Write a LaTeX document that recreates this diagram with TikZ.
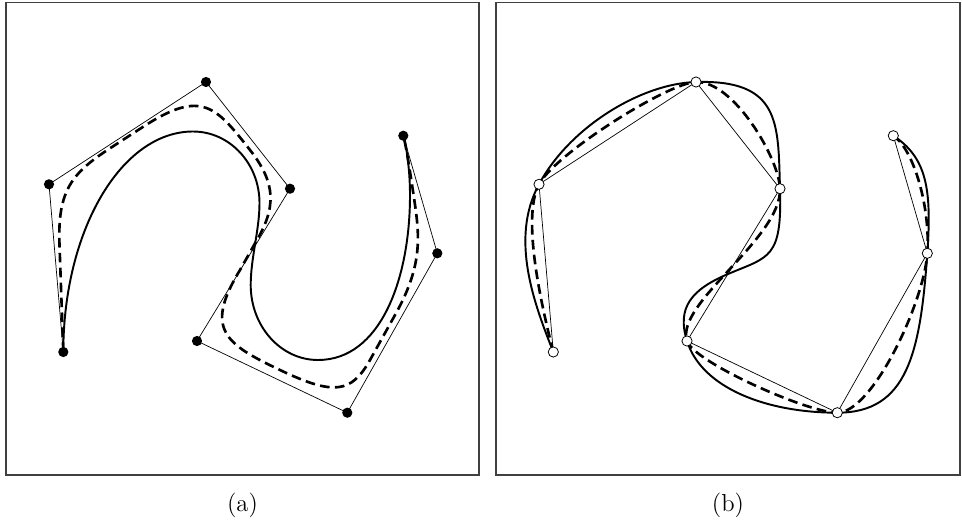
\documentclass[tikz,border=0pt]{standalone}
\usepackage{tikz}

\begin{document}
\begin{tikzpicture}[
    x=0.02cm, y=-0.02cm,
    frame/.style={draw=black!75, line width=0.7pt},
    hull/.style={line width=0.4pt},
    fullcurve/.style={line width=1.1pt},
    dashcurve/.style={line width=1.5pt, dash pattern=on 5.5pt off 3pt},
    adot/.style={circle, fill=black, inner sep=0pt, minimum size=5.8pt},
    bdot/.style={circle, draw, fill=white, line width=0.45pt, inner sep=0pt, minimum size=5.8pt},
    caption/.style={font=\fontsize{14}{16}\selectfont},
]
\useasboundingbox (0,0) rectangle (962,527);
% Frames and captions
\draw[frame] (6,2.5) rectangle (479,475);
\draw[frame] (496,2.5) rectangle (960,475);
\node[caption] (capa) at (242.5,505) {(a)};
\node[caption] (capb) at (728,505) {(b)};
% (a) control points
\coordinate (P0) at (63.3,352);
\coordinate (P1) at (49,184.3);
\coordinate (P2) at (206,82);
\coordinate (P3) at (290,188.7);
\coordinate (P4) at (197,341);
\coordinate (P5) at (347.3,412.7);
\coordinate (P6) at (437.3,253.3);
\coordinate (P7) at (403.3,135.7);
% (b) data points
\coordinate (Q0) at (553.3,352);
\coordinate (Q1) at (539,184.3);
\coordinate (Q2) at (696,82);
\coordinate (Q3) at (780,188.7);
\coordinate (Q4) at (687,341);
\coordinate (Q5) at (837.3,412.7);
\coordinate (Q6) at (927.3,253.3);
\coordinate (Q7) at (893.3,135.7);
% Polygons
\draw[hull] (P0) -- (P1) -- (P2) -- (P3) -- (P4) -- (P5) -- (P6) -- (P7);
\draw[hull] (Q0) -- (Q1) -- (Q2) -- (Q3) -- (Q4) -- (Q5) -- (Q6) -- (Q7);
% (a) approximating curves
\draw[fullcurve] (P0) .. controls (63.3,230.6) and (121.2,131.5) .. (193,131.5)
  .. controls (229.7,131.5) and (259.5,163.5) .. (259.5,203)
  .. controls (259.5,230) and (250.7,258) .. (250.7,285)
  .. controls (250.7,326.4) and (280.8,360) .. (318,360)
  .. controls (380,360) and (410,280) .. (410,195)
  .. controls (410,175) and (407.5,150.1) .. (P7);
\draw[dashcurve] (P0) -- (59.5,245)
  .. controls (57.3,190) and (72.3,172.9) .. (110,148.3)
  -- (143.3,126.7)
  .. controls (202,88.5) and (216,106.8) .. (250,150)
  .. controls (276,183) and (276.9,207.4) .. (255,243.3)
  -- (240,270)
  .. controls (203.5,329.8) and (225.8,344.1) .. (280,370)
  .. controls (334.2,395.9) and (351.3,393.1) .. (370,360)
  -- (395,315)
  .. controls (424.5,262.7) and (419.2,232.9) .. (413.3,193.3)
  .. controls (411.1,178.5) and (406.1,145.3) .. (P7);
% (b) interpolating curves
\draw[fullcurve] (Q0) .. controls (534.8,305.2) and (509.2,238.9) .. (Q1)
  .. controls (569.6,127.1) and (641,83.6) .. (Q2)
  .. controls (781,79.5) and (778,123.7) .. (Q3)
  .. controls (782.1,258.7) and (769.4,256.5) .. (728,274)
  .. controls (691.2,289.6) and (676.5,307.8) .. (Q4)
  .. controls (702,388.5) and (767.3,412.7) .. (Q5)
  .. controls (907.3,412.7) and (920.3,353.3) .. (Q6)
  .. controls (931.9,188.3) and (926.5,157.7) .. (Q7);
\draw[dashcurve] (Q0) .. controls (544.6,317.8) and (520.2,219.5) .. (Q1)
  .. controls (555.5,153.5) and (668,82.8) .. (Q2)
  .. controls (734,80.9) and (779.1,158.7) .. (Q3)
  .. controls (781.5,238.7) and (675,303) .. (Q4)
  .. controls (693.6,361.9) and (807.3,412.7) .. (Q5)
  .. controls (872.3,412.7) and (923.8,303.3) .. (Q6)
  .. controls (930.5,208.3) and (914.1,149.5) .. (Q7);
% Markers
\path (P0) node[adot] (a0) {} (P1) node[adot] (a1) {} (P2) node[adot] (a2) {}
      (P3) node[adot] (a3) {} (P4) node[adot] (a4) {} (P5) node[adot] (a5) {}
      (P6) node[adot] (a6) {} (P7) node[adot] (a7) {};
\path (Q0) node[bdot] (b0) {} (Q1) node[bdot] (b1) {} (Q2) node[bdot] (b2) {}
      (Q3) node[bdot] (b3) {} (Q4) node[bdot] (b4) {} (Q5) node[bdot] (b5) {}
      (Q6) node[bdot] (b6) {} (Q7) node[bdot] (b7) {};
\end{tikzpicture}
\end{document}
